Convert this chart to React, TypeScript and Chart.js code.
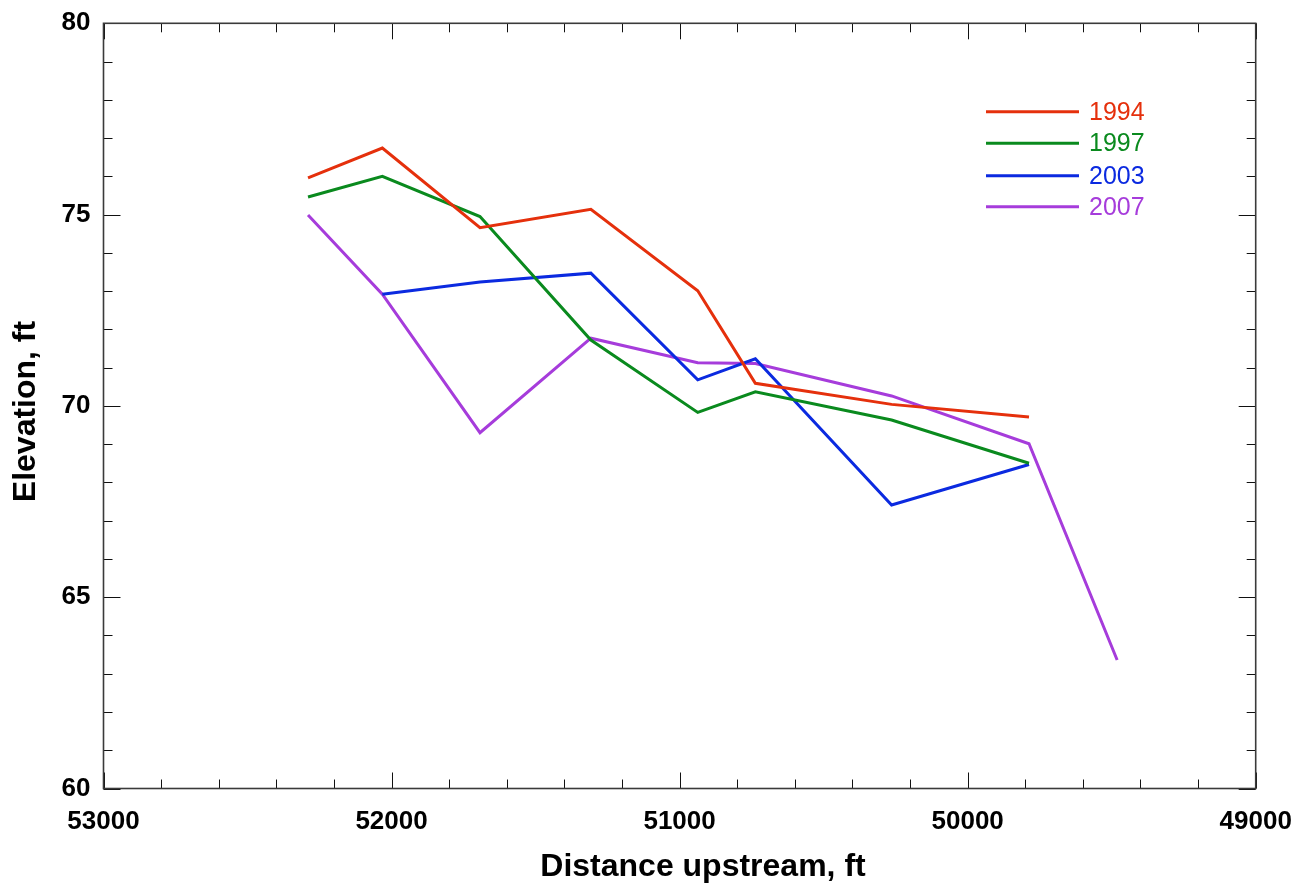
import React, { useEffect, useRef } from "react";
import { Chart, registerables } from "chart.js";

Chart.register(...registerables);

// Survey stations, distance upstream (ft)
const stations = [52290, 52032, 51693, 51308, 50937, 50737, 50264, 49787, 49481];

// Thalweg elevations (ft) for each survey year
const elev1994 = [75.96, 76.74, 74.66, 75.14, 73.01, 70.59, 70.04, 69.71];
const elev1997 = [75.46, 76.0, 74.95, 71.72, 69.83, 70.37, 69.63, 68.5];
const elev2003 = [72.92, 73.24, 73.47, 70.68, 71.23, 67.41, 68.47]; // starts at second station
const elev2007 = [74.99, 72.92, 69.3, 71.77, 71.13, 71.11, 70.26, 69.01, 63.36];

const years = ["1994", "1997", "2003", "2007"];
const colors = ["#E5300C", "#0A8A1E", "#0B2AE0", "#A63CDB"];

const xTicks = [53000, 52000, 51000, 50000, 49000];
const yTicks = [60, 65, 70, 75, 80];

const FONT = "'Liberation Sans', Arial, Helvetica, sans-serif";

function pts(values: number[], offset: number) {
  return values.map((y, i) => ({ x: stations[i + offset], y }));
}

function noEdgePadding(scale: any) {
  scale.paddingLeft = 0;
  scale.paddingRight = 0;
  scale.paddingTop = 0;
  scale.paddingBottom = 0;
}

const framePlugin = {
  id: "frameTicks",
  afterDraw(chart: any) {
    const ctx = chart.ctx as CanvasRenderingContext2D;
    const { left, right, top, bottom } = chart.chartArea;
    const xs = chart.scales.x;
    const ys = chart.scales.y;
    ctx.save();
    // minor/major inward ticks on all four sides
    ctx.strokeStyle = "#111";
    ctx.lineWidth = 1;
    ctx.beginPath();
    for (let v = 49000; v <= 53000; v += 200) {
      const px = Math.round(xs.getPixelForValue(v)) + 0.5;
      const len = v % 1000 === 0 ? 16 : 9;
      ctx.moveTo(px, bottom);
      ctx.lineTo(px, bottom - len);
      ctx.moveTo(px, top);
      ctx.lineTo(px, top + len);
    }
    for (let v = 60; v <= 80; v += 1) {
      const py = Math.round(ys.getPixelForValue(v)) + 0.5;
      const len = v % 5 === 0 ? 17 : 9;
      ctx.moveTo(left, py);
      ctx.lineTo(left + len, py);
      ctx.moveTo(right, py);
      ctx.lineTo(right - len, py);
    }
    ctx.stroke();
    // plot frame
    ctx.strokeStyle = "#3a3a3a";
    ctx.lineWidth = 1.6;
    ctx.strokeRect(left, top, right - left, bottom - top);

    // axis titles
    ctx.fillStyle = "#000";
    ctx.font = `bold 32px ${FONT}`;
    ctx.textAlign = "center";
    ctx.textBaseline = "alphabetic";
    ctx.fillText("Distance upstream, ft", 703, 876);
    ctx.save();
    ctx.translate(35, 411.5);
    ctx.rotate(-Math.PI / 2);
    ctx.fillText("Elevation, ft", 0, 0);
    ctx.restore();

    // legend
    ctx.font = `25px ${FONT}`;
    ctx.textAlign = "left";
    const legendY = [111.7, 143.3, 175.7, 206.7];
    chart.data.datasets.forEach((ds: any, i: number) => {
      const y = legendY[i];
      ctx.strokeStyle = ds.borderColor;
      ctx.lineWidth = 3;
      ctx.beginPath();
      ctx.moveTo(986, y);
      ctx.lineTo(1079, y);
      ctx.stroke();
      ctx.fillStyle = ds.borderColor;
      ctx.fillText(ds.label, 1089, y + 8);
    });
    ctx.restore();
  },
};

export default function App() {
  const ref = useRef<HTMLCanvasElement>(null);

  useEffect(() => {
    if (!ref.current) return;
    const series = [pts(elev1994, 0), pts(elev1997, 0), pts(elev2003, 1), pts(elev2007, 0)];
    const chart = new Chart(ref.current, {
      type: "line",
      data: {
        datasets: series.map((data, i) => ({
          label: years[i],
          data,
          borderColor: colors[i],
          backgroundColor: colors[i],
          borderWidth: 3,
          pointRadius: 0,
          tension: 0,
          fill: false,
        })),
      },
      options: {
        animation: false,
        responsive: false,
        devicePixelRatio: 1,
        layout: { padding: { left: 0, top: 23.3, right: 45.3, bottom: 0 } },
        plugins: { legend: { display: false }, tooltip: { enabled: false } },
        scales: {
          x: {
            type: "linear",
            reverse: true,
            min: 49000,
            max: 53000,
            afterBuildTicks: (scale: any) => {
              scale.ticks = xTicks.map((v) => ({ value: v }));
            },
            afterFit: (scale: any) => {
              scale.height = 95.5;
              noEdgePadding(scale);
            },
            grid: { display: false, drawTicks: false },
            border: { display: false },
            ticks: {
              autoSkip: false,
              maxRotation: 0,
              padding: 18,
              color: "#000",
              font: { family: FONT, size: 26, weight: "bold" },
              callback: (v: any) => String(v),
            },
          },
          y: {
            type: "linear",
            min: 60,
            max: 80,
            afterBuildTicks: (scale: any) => {
              scale.ticks = yTicks.map((v) => ({ value: v }));
            },
            afterFit: (scale: any) => {
              scale.width = 103.5;
              noEdgePadding(scale);
            },
            grid: { display: false, drawTicks: false },
            border: { display: false },
            ticks: {
              autoSkip: false,
              padding: 13,
              color: "#000",
              font: { family: FONT, size: 26, weight: "bold" },
              callback: (v: any) => String(v),
            },
          },
        },
      },
      plugins: [framePlugin],
    });
    return () => chart.destroy();
  }, []);

  return (
    <div style={{ position: "absolute", left: 0, top: 0, width: 1301, height: 884, background: "#fff" }}>
      <canvas ref={ref} width={1301} height={884} />
    </div>
  );
}
